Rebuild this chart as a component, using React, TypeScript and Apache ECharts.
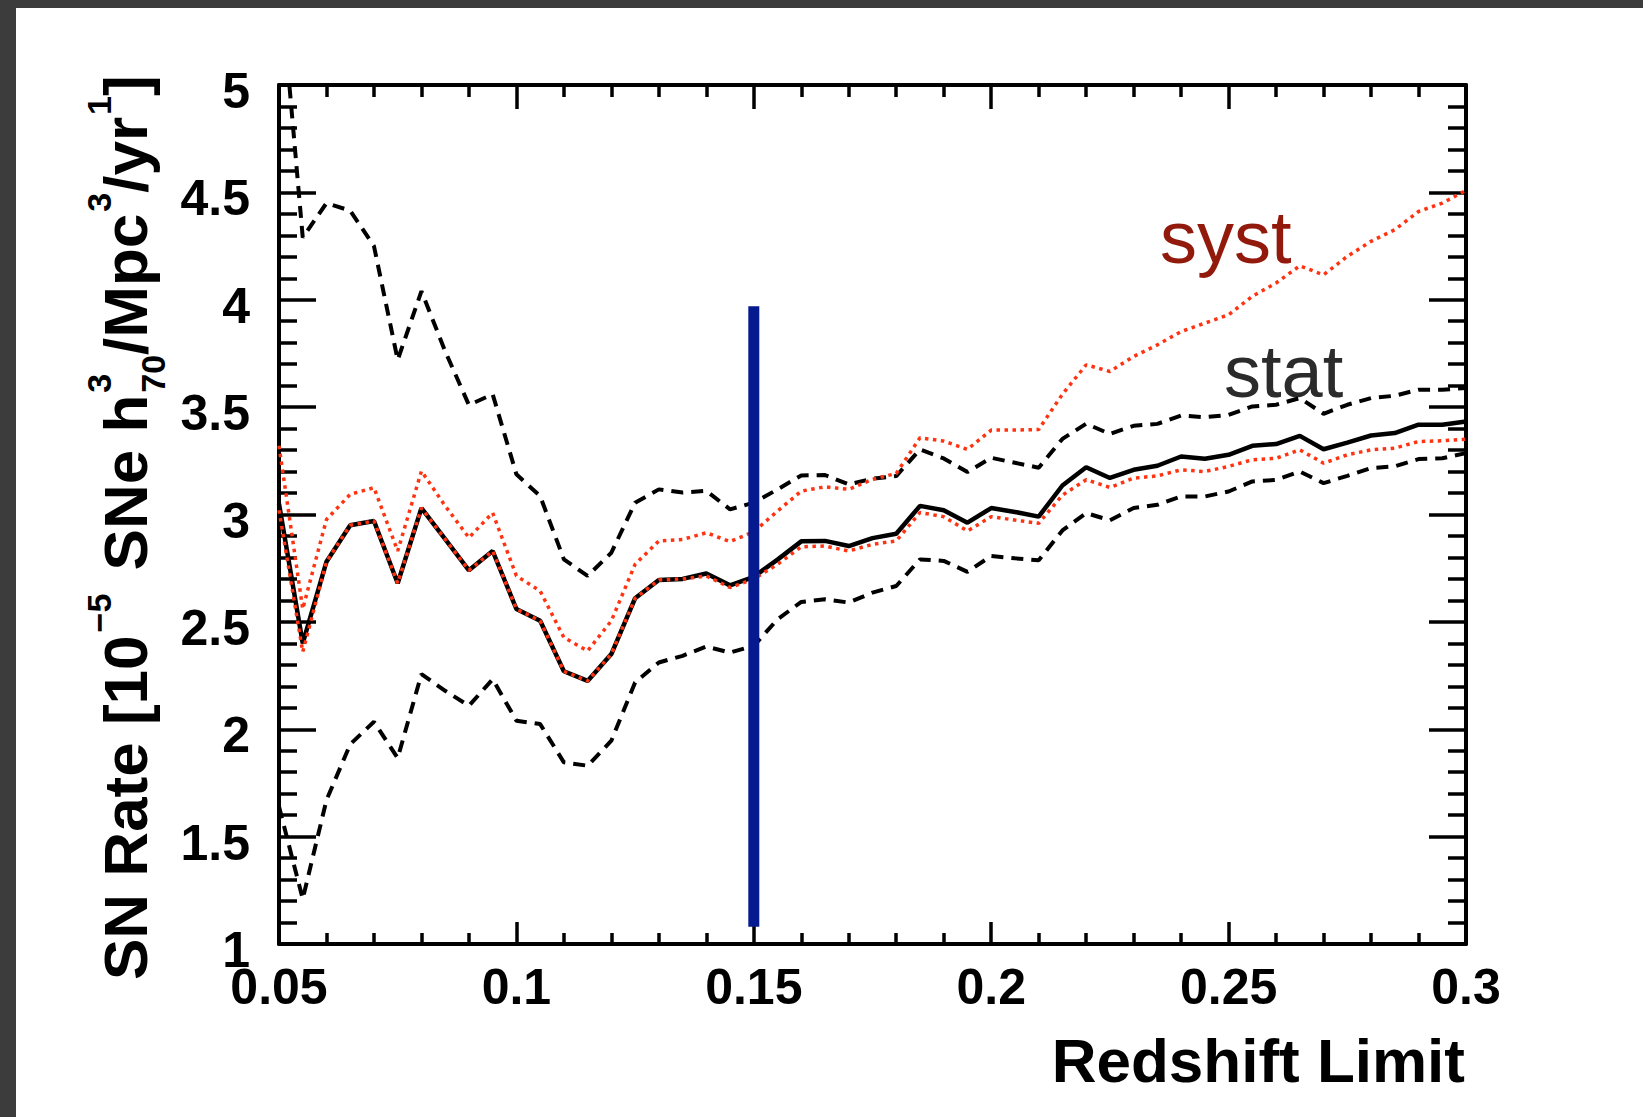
import React, { useEffect, useRef } from "react";
import * as echarts from "echarts";

// ---------- data ----------
const redshift = [
  0.05, 0.055, 0.06, 0.065, 0.07, 0.075, 0.08, 0.085, 0.09, 0.095,
  0.1, 0.105, 0.11, 0.115, 0.12, 0.125, 0.13, 0.135, 0.14, 0.145,
  0.15, 0.155, 0.16, 0.165, 0.17, 0.175, 0.18, 0.185, 0.19, 0.195,
  0.2, 0.205, 0.21, 0.215, 0.22, 0.225, 0.23, 0.235, 0.24, 0.245,
  0.25, 0.255, 0.26, 0.265, 0.27, 0.275, 0.28, 0.285, 0.29, 0.295, 0.3,
];

const rate = [
  3.05, 2.4, 2.78, 2.95, 2.97, 2.68, 3.03, 2.885, 2.74, 2.83,
  2.56, 2.505, 2.27, 2.225, 2.35, 2.61, 2.695, 2.7, 2.725, 2.67,
  2.71, 2.79, 2.875, 2.877, 2.853, 2.89, 2.91, 3.04, 3.02, 2.962,
  3.03, 3.012, 2.99, 3.135, 3.22, 3.17, 3.208, 3.227, 3.27, 3.26,
  3.278, 3.32, 3.328, 3.366, 3.304, 3.335, 3.368, 3.379, 3.418, 3.418, 3.433,
];

const statUpper = [
  5.55, 4.29, 4.45, 4.415, 4.25, 3.72, 4.04, 3.76, 3.51, 3.56,
  3.187, 3.086, 2.791, 2.714, 2.822, 3.055, 3.117, 3.102, 3.11, 3.024,
  3.055, 3.117, 3.182, 3.184, 3.14, 3.167, 3.179, 3.303, 3.261, 3.198,
  3.264, 3.241, 3.218, 3.352, 3.423, 3.375, 3.413, 3.422, 3.461, 3.453,
  3.464, 3.503, 3.511, 3.542, 3.469, 3.511, 3.542, 3.553, 3.581, 3.581, 3.589,
];

const statLower = [
  1.64, 1.21, 1.67, 1.93, 2.035, 1.866, 2.257, 2.179, 2.109, 2.233,
  2.04, 2.024, 1.846, 1.83, 1.947, 2.218, 2.311, 2.342, 2.385, 2.357,
  2.388, 2.512, 2.593, 2.605, 2.59, 2.636, 2.667, 2.791, 2.784, 2.733,
  2.807, 2.796, 2.787, 2.926, 3.007, 2.973, 3.03, 3.045, 3.084, 3.084,
  3.107, 3.154, 3.161, 3.2, 3.146, 3.18, 3.216, 3.224, 3.258, 3.262, 3.286,
];

const systUpper = [
  3.32, 2.56, 2.977, 3.094, 3.125, 2.83, 3.202, 3.04, 2.892, 3.008,
  2.714, 2.644, 2.427, 2.365, 2.505, 2.768, 2.877, 2.884, 2.915, 2.874,
  2.92, 3.016, 3.109, 3.129, 3.117, 3.164, 3.191, 3.357, 3.342, 3.303,
  3.393, 3.393, 3.396, 3.56, 3.697, 3.666, 3.736, 3.79, 3.852, 3.891,
  3.93, 4.016, 4.078, 4.158, 4.116, 4.202, 4.272, 4.326, 4.411, 4.45, 4.509,
];

const systLower = [
  3.02, 2.36, 2.78, 2.95, 2.97, 2.68, 3.03, 2.885, 2.74, 2.83,
  2.56, 2.505, 2.27, 2.225, 2.35, 2.61, 2.695, 2.7, 2.714, 2.66,
  2.7, 2.768, 2.85, 2.853, 2.83, 2.861, 2.877, 3.009, 2.99, 2.923,
  2.99, 2.974, 2.959, 3.09, 3.162, 3.126, 3.169, 3.18, 3.208, 3.2,
  3.224, 3.255, 3.262, 3.301, 3.239, 3.278, 3.301, 3.309, 3.34, 3.343, 3.351,
];

const cutX = [0.15, 0.15];
const cutY = [1.08, 3.97];

const xMin = 0.05;
const xMax = 0.3;
const xStep = 0.05;
const yMin = 1;
const yMax = 5;
const yStep = 0.5;

const xTitle = "Redshift Limit";
const labelSyst = "syst";
const labelStat = "stat";

// ---------- helpers ----------
const FAMILY = '"Liberation Sans", Arial, Helvetica, sans-serif';
const boldFont = (s: number) => `bold ${s}px ${FAMILY}`;

let measureCtx: CanvasRenderingContext2D | null = null;
function measure(text: string, font: string): number {
  if (!measureCtx) {
    const c = document.createElement("canvas");
    measureCtx = c.getContext("2d");
  }
  if (!measureCtx) return text.length * 30;
  measureCtx.font = font;
  return measureCtx.measureText(text).width;
}

const fmt = (v: number) => String(parseFloat(v.toFixed(3)));

function pairs(xs: number[], ys: number[]) {
  return xs.map((x, i) => [x, ys[i]]);
}

function buildYTitle() {
  const M = 62;
  const S = 34;
  const C = 0.3465; // central-baseline offset
  const children: any[] = [];
  let cx = 0;
  const main = (t: string) => {
    children.push({
      type: "text",
      x: cx,
      y: -C * M,
      style: { text: t, font: boldFont(M), fill: "#000", align: "left", verticalAlign: "middle" },
    });
    cx += measure(t, boldFont(M));
  };
  const sup = (t: string, advance = true) => {
    children.push({
      type: "text",
      x: cx,
      y: -36 - C * S,
      style: { text: t, font: boldFont(S), fill: "#000", align: "left", verticalAlign: "middle" },
    });
    const w = measure(t, boldFont(S));
    if (advance) cx += w;
    return w;
  };
  const sub = (t: string) => {
    children.push({
      type: "text",
      x: cx,
      y: 18 - C * S,
      style: { text: t, font: boldFont(S), fill: "#000", align: "left", verticalAlign: "middle" },
    });
    return measure(t, boldFont(S));
  };
  main("SN Rate [10");
  cx += 3;
  sup("\u22125");
  cx += 6;
  main(" SNe h");
  cx += 2;
  const w1 = sup("3", false);
  const w2 = sub("70");
  cx += Math.max(w1, w2);
  main("/Mpc");
  cx += 2;
  sup("3");
  main("/yr");
  cx += 2;
  sup("1");
  main("]");
  return { type: "group", x: 131, y: 972, rotation: Math.PI / 2, children };
}

// ---------- component ----------
export default function App() {
  const ref = useRef<HTMLDivElement>(null);

  useEffect(() => {
    document.documentElement.style.background = "#ffffff";
    document.documentElement.style.overflow = "hidden";
    document.body.style.margin = "0";
    document.body.style.overflow = "hidden";
    document.body.style.background = "#ffffff";
    if (!ref.current) return;
    const chart = echarts.init(ref.current, null, { renderer: "svg" });

    const axisLine = { show: true, onZero: false, lineStyle: { color: "#000", width: 4 } };
    const tickStyle = { color: "#000", width: 3.5 };

    const xBase = {
      type: "value",
      min: xMin,
      max: xMax,
      interval: xStep,
      splitLine: { show: false },
      minorSplitLine: { show: false },
      axisLine,
    };
    const yBase = {
      type: "value",
      min: yMin,
      max: yMax,
      interval: yStep,
      splitLine: { show: false },
      minorSplitLine: { show: false },
      axisLine,
    };

    const option: any = {
      animation: false,
      backgroundColor: "#ffffff",
      textStyle: { fontFamily: FAMILY },
      grid: { left: 263, top: 77, width: 1187, height: 859, containLabel: false },
      xAxis: [
        {
          ...xBase,
          position: "bottom",
          axisTick: { show: true, inside: true, length: 22, lineStyle: tickStyle },
          minorTick: { show: true, splitNumber: 5, length: 11, lineStyle: tickStyle },
          axisLabel: {
            show: true,
            margin: 18,
            fontSize: 50,
            fontWeight: "bold",
            color: "#000",
            fontFamily: FAMILY,
            formatter: (v: number) => fmt(v),
          },
        },
        {
          ...xBase,
          position: "top",
          axisTick: { show: true, inside: true, length: 24, lineStyle: tickStyle },
          minorTick: { show: true, splitNumber: 5, length: 12, lineStyle: tickStyle },
          axisLabel: { show: false },
        },
      ],
      yAxis: [
        {
          ...yBase,
          position: "left",
          axisTick: { show: true, inside: true, length: 37, lineStyle: tickStyle },
          minorTick: { show: true, splitNumber: 5, length: 18, lineStyle: tickStyle },
          axisLabel: {
            show: true,
            margin: 29,
            fontSize: 50,
            fontWeight: "bold",
            color: "#000",
            fontFamily: FAMILY,
            verticalAlign: "top",
            lineHeight: 12,
            formatter: (v: number) => fmt(v),
          },
        },
        {
          ...yBase,
          position: "right",
          axisTick: { show: true, inside: true, length: 37, lineStyle: tickStyle },
          minorTick: { show: true, splitNumber: 5, length: 18, lineStyle: tickStyle },
          axisLabel: { show: false },
        },
      ],
      series: [
        {
          name: "stat upper",
          type: "line",
          data: pairs(redshift, statUpper),
          symbol: "none",
          clip: true,
          z: 3,
          lineStyle: { color: "#000", width: 4, type: [12, 8], cap: "butt" },
        },
        {
          name: "stat lower",
          type: "line",
          data: pairs(redshift, statLower),
          symbol: "none",
          clip: true,
          z: 3,
          lineStyle: { color: "#000", width: 4, type: [12, 8], cap: "butt" },
        },
        {
          name: "rate",
          type: "line",
          data: pairs(redshift, rate),
          symbol: "none",
          clip: true,
          z: 4,
          lineStyle: { color: "#000", width: 4.5, type: "solid" },
        },
        {
          name: "syst upper",
          type: "line",
          data: pairs(redshift, systUpper),
          symbol: "none",
          clip: true,
          z: 5,
          lineStyle: { color: "#ff3311", width: 3.5, type: [3.5, 4.5], cap: "butt" },
        },
        {
          name: "syst lower",
          type: "line",
          data: pairs(redshift, systLower),
          symbol: "none",
          clip: true,
          z: 5,
          lineStyle: { color: "#ff3311", width: 3.5, type: [3.5, 4.5], cap: "butt" },
        },
        {
          name: "cut",
          type: "line",
          data: pairs(cutX, cutY),
          symbol: "none",
          clip: true,
          z: 6,
          lineStyle: { color: "#051a8f", width: 11, cap: "butt" },
        },
      ],
      graphic: [
        {
          type: "text",
          x: 1449,
          y: 1074 - 0.3465 * 62,
          style: {
            text: xTitle,
            font: boldFont(62),
            fill: "#000",
            align: "right",
            verticalAlign: "middle",
          },
        },
        {
          type: "text",
          x: 1144,
          y: 255 - 0.3465 * 74,
          style: {
            text: labelSyst,
            font: `${74}px ${FAMILY}`,
            fill: "#921a0c",
            align: "left",
            verticalAlign: "middle",
          },
        },
        {
          type: "text",
          x: 1208,
          y: 389 - 0.3465 * 74,
          style: {
            text: labelStat,
            font: `${74}px ${FAMILY}`,
            fill: "#2b2b2b",
            align: "left",
            verticalAlign: "middle",
          },
        },
        buildYTitle(),
      ],
    };

    chart.setOption(option);
    return () => chart.dispose();
  }, []);

  return (
    <div style={{ position: "fixed", left: 0, top: 0, width: "100vw", height: "100vh", background: "#ffffff" }}>
      <div style={{ position: "absolute", left: 0, top: 0, width: "100%", height: 8, background: "#3c3c3c" }} />
      <div style={{ position: "absolute", left: 0, top: 0, width: 16, height: "100%", background: "#3c3c3c" }} />
      <div
        ref={ref}
        style={{ position: "absolute", left: 16, top: 8, width: 1627, height: 1109, background: "#fff" }}
      />
    </div>
  );
}
